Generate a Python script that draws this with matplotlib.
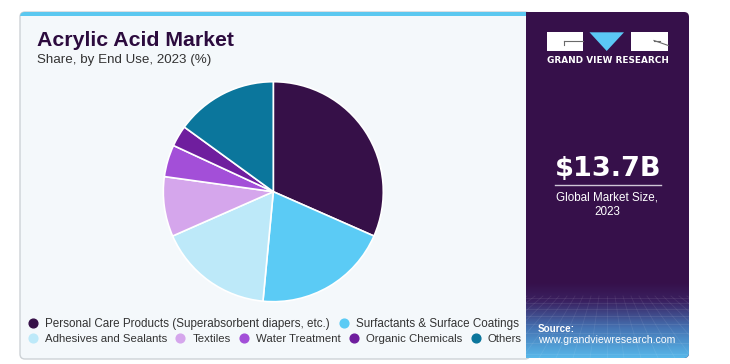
import numpy as np
import matplotlib
matplotlib.use("Agg")
import matplotlib.pyplot as plt
from matplotlib.patches import FancyBboxPatch, Rectangle, Polygon
from matplotlib.lines import Line2D
from matplotlib.colors import LinearSegmentedColormap
from matplotlib import font_manager

# ---------------- data ----------------
categories = [
    "Personal Care Products (Superabsorbent diapers, etc.)",
    "Surfactants & Surface Coatings",
    "Adhesives and Sealants",
    "Textiles",
    "Water Treatment",
    "Organic Chemicals",
    "Others",
]
shares = [31.6, 19.9, 16.9, 8.8, 4.7, 3.1, 15.0]
colors = ["#361048", "#5bcbf5", "#bde9f9", "#d5a6ec", "#a34fd8", "#6f1e9e", "#0b769c"]
title = "Acrylic Acid Market"
subtitle = "Share, by End Use, 2023 (%)"
market_size = "$13.7B"
market_label = ["Global Market Size,", "2023"]
brand = "GRAND VIEW RESEARCH"
source_head = "Source:"
source_url = "www.grandviewresearch.com"

plt.rcParams["font.family"] = ["Liberation Sans", "DejaVu Sans"]
names = {f.name for f in font_manager.fontManager.ttflist}
NARROW = ["Liberation Sans Narrow", "Liberation Sans"] if "Liberation Sans Narrow" in names \
    else ["Liberation Sans"]

W, H = 730, 364
fig = plt.figure(figsize=(W / 100, H / 100), dpi=100)
fig.patch.set_facecolor("white")
bg = fig.add_axes([0, 0, 1, 1])
bg.set_xlim(0, W)
bg.set_ylim(H, 0)
bg.axis("off")

PURPLE = "#36104a"

# left panel
left = FancyBboxPatch((20, 12), 510, 347, boxstyle="round,pad=0,rounding_size=5",
                      fc="#f4f8fb", ec="#cdd2d6", lw=1.0, zorder=1)
bg.add_patch(left)
bar = Rectangle((20, 12), 510, 4.3, fc="#5bc8f0", ec="none", zorder=2)
bg.add_patch(bar)
bar.set_clip_path(left)

# right panel
clip_rect = Rectangle((525.5, 0), 300, H, transform=bg.transData)
right = FancyBboxPatch((505, 12), 184, 346, boxstyle="round,pad=0,rounding_size=5",
                       fc=PURPLE, ec="none", zorder=3)
bg.add_patch(right)
right.set_clip_path(clip_rect)

# gradient at bottom of right panel
cmap = LinearSegmentedColormap.from_list(
    "g", [(0, PURPLE), (0.25, "#3a2060"), (0.6, "#4572b2"), (1.0, "#58b8ea")])
grad = np.linspace(0, 1, 200).reshape(-1, 1)
im = bg.imshow(grad, cmap=cmap, extent=[525.5, 689, 358, 282], aspect="auto",
               zorder=4, interpolation="bilinear")
im.set_clip_path(right)
# faint perspective grid
for yy in [298, 303, 309, 316, 324, 333, 343, 354]:
    l, = bg.plot([525, 690], [yy, yy], color="white", alpha=0.09, lw=0.6, zorder=5)
    l.set_clip_path(right)
for k in range(-14, 15):
    l, = bg.plot([607 + k * 8, 607 + k * 17], [296, 358], color="white", alpha=0.08,
                 lw=0.6, zorder=5)
    l.set_clip_path(right)
bg.set_xlim(0, W)
bg.set_ylim(H, 0)

# logo
bg.add_patch(Rectangle((547.3, 32.3), 35.4, 18.7, fc="white", ec="none", zorder=6))
bg.plot([564, 582.7], [40.7, 40.7], color="#6a6a6a", lw=0.8, zorder=7)
bg.plot([564, 564], [40.7, 44.5], color="#6a6a6a", lw=0.8, zorder=7)
bg.add_patch(Polygon([(589.5, 32.3), (624, 32.3), (606.7, 51)], closed=True,
                     fc="#5bc8f5", ec="none", zorder=6))
bg.add_patch(Rectangle((630.7, 32.3), 37.6, 18.7, fc="white", ec="none", zorder=6))
bg.plot([654, 660], [40.5, 40.5], color="#6a6a6a", lw=0.8, zorder=7)
bg.plot([654, 668.3], [40.5, 45.5], color="#6a6a6a", lw=0.8, zorder=7)

renderer = fig.canvas.get_renderer()


def fit(t, target):
    w = t.get_window_extent(renderer).width
    t.set_fontsize(t.get_fontsize() * target / w)
    return t


fit(bg.text(37.3, 45.7, title, fontsize=13, fontweight="bold", color="#2c0b3e",
            va="baseline", ha="left", zorder=8), 196)
fit(bg.text(37.3, 62.5, subtitle, fontsize=9.5, color="#333333", family=NARROW,
            va="baseline", ha="left", zorder=8), 175)

fit(bg.text(607.5, 62.7, brand, fontsize=7, fontweight="bold", color="white",
            family="DejaVu Sans", va="baseline", ha="center", zorder=8), 121)
fit(bg.text(607.8, 176, market_size, fontsize=22, fontweight="bold", color="white",
            family="DejaVu Sans", va="baseline", ha="center", zorder=8), 106)
bg.plot([555, 661], [184.5, 184.5], color="#cfc6d6", lw=1.0, zorder=8)
t1 = fit(bg.text(607.5, 201, market_label[0], fontsize=9.5, color="white", family=NARROW,
                 va="baseline", ha="center", zorder=8), 102)
bg.text(607.5, 215, market_label[1], fontsize=t1.get_fontsize(), color="white",
        family=NARROW, va="baseline", ha="center", zorder=8)
fit(bg.text(538, 331.7, source_head, fontsize=8, fontweight="bold", color="white",
            family=NARROW, va="baseline", ha="left", zorder=8), 37)
fit(bg.text(538, 343, source_url, fontsize=8, color="white", family=NARROW,
            va="baseline", ha="left", zorder=8), 138)

# pie
cx, cy, r = 273.3, 191.7, 110
ax = fig.add_axes([(cx - r) / W, 1 - (cy + r) / H, 2 * r / W, 2 * r / H])
ax.pie(shares, colors=colors, startangle=90, counterclock=False, radius=1,
       wedgeprops=dict(edgecolor="white", linewidth=1.2))
ax.set_xlim(-1, 1)
ax.set_ylim(-1, 1)
ax.axis("off")

# legend
handles = [Line2D([], [], marker="o", linestyle="none", markersize=6.3,
                  markerfacecolor=c, markeredgecolor=c) for c in colors]
common = dict(frameon=False, handlelength=0.8, handletextpad=0.68,
              borderpad=0, borderaxespad=0, labelcolor="#333333",
              loc="center left")
fig.legend(handles[:2], categories[:2], ncol=2, bbox_to_anchor=(28 / W, 1 - 324 / H),
           fontsize=8.38, columnspacing=0.8, **common)
fig.legend(handles[2:], categories[2:], ncol=5, bbox_to_anchor=(28 / W, 1 - 339 / H),
           fontsize=8.2, columnspacing=0.75, **common)

fig.savefig("out.png", dpi=100, facecolor="white")
